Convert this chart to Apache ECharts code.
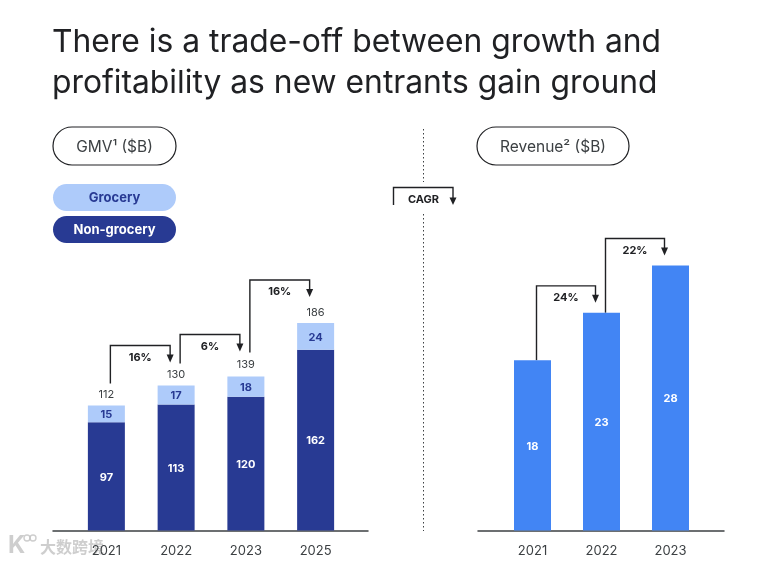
<!DOCTYPE html>
<html>
<head>
<meta charset="utf-8">
<title>GMV and revenue</title>
<script src="https://cdn.jsdelivr.net/npm/echarts@6/dist/echarts.min.js"></script>
<style>
  html, body { margin: 0; padding: 0; background: #fff; }
  #main { width: 781px; height: 562px; }
</style>
</head>
<body>
<div id="main"></div>
<script>
// -------------------------------------------------------------
// Data
// -------------------------------------------------------------
const gmvYears = ['2021', '2022', '2023', '2025'];
const groceryValues = [15, 17, 18, 24];
const nonGroceryValues = [97, 113, 120, 162];
const gmvTotals = [112, 130, 139, 186];
const gmvCagr = ['16%', '6%', '16%'];

const revenueYears = ['2021', '2022', '2023'];
const revenueValues = [18, 23, 28];
const revenueCagr = ['24%', '22%'];

// -------------------------------------------------------------
// Style
// -------------------------------------------------------------
const FONT = 'Inter';
const INK = '#202124';
const GREY = '#3c4043';
const NAVY = '#283a93';
const LIGHT = '#aecbfa';
const BLUE = '#4285f4';

const GRID_TOP = 230.5, GRID_BOTTOM = 31.5;

// Draws one "from bar -> to bar" growth bracket through the axes
function bracketRenderer(values, startGap, tipGap) {
    return function (params, api) {
        const from = api.value(0), to = api.value(1);
        const a = api.coord([from, values[from]]);
        const b = api.coord([to, values[to]]);
        const x0 = a[0] + 4, x1 = b[0] - 6;
        const y0 = a[1] - startGap[from];
        const tip = b[1] - tipGap[from];
        const peak = tip - 17;
        return {
            type: 'group',
            children: [
                { type: 'polyline', shape: { points: [[x0, y0], [x0, peak], [x1, peak], [x1, tip - 6]] },
                  style: { stroke: INK, lineWidth: 1.4, fill: null } },
                { type: 'polygon', shape: { points: [[x1 - 3.5, tip - 8], [x1 + 3.5, tip - 8], [x1, tip]] },
                  style: { fill: INK } },
                { type: 'text', style: { text: api.value(2), x: (x0 + x1) / 2, y: peak + 12, align: 'center', verticalAlign: 'middle',
                  font: '700 11px ' + FONT, fill: INK } }
            ]
        };
    };
}

function bracketData(labels) {
    return labels.map((label, i) => [i, i + 1, label]);
}

function pill(x, y, w, h, fill, stroke, text, textColor, font) {
    return [
        { type: 'rect', shape: { x: x, y: y, width: w, height: h, r: h / 2 },
          style: { fill: fill, stroke: stroke, lineWidth: 1.2 } },
        { type: 'text', x: x + w / 2, y: y + h / 2 + 1,
          style: { text: text, fill: textColor, font: font, align: 'center', verticalAlign: 'middle' } }
    ];
}

const WATERMARK = 'rgba(190,190,190,0.75)';

const graphics = [
    ...pill(53, 127, 123, 38, '#fff', INK, 'GMV¹ ($B)', GREY, '15.5px ' + FONT),
    ...pill(477, 127, 152, 38, '#fff', INK, 'Revenue² ($B)', GREY, '15.5px ' + FONT),
    ...pill(53, 184, 123, 27, LIGHT, null, 'Grocery', NAVY, '700 13px ' + FONT),
    ...pill(53, 216, 123, 27, NAVY, null, 'Non-grocery', '#fff', '700 13px ' + FONT),

    // divider and CAGR key
    { type: 'line', shape: { x1: 423.5, y1: 129, x2: 423.5, y2: 182 }, style: { stroke: GREY, lineWidth: 1, lineDash: [1.5, 2.5] } },
    { type: 'line', shape: { x1: 423.5, y1: 214, x2: 423.5, y2: 531 }, style: { stroke: GREY, lineWidth: 1, lineDash: [1.5, 2.5] } },
    { type: 'polyline', shape: { points: [[393.5, 205], [393.5, 187.5], [453, 187.5], [453, 198]] }, style: { stroke: INK, lineWidth: 1.4, fill: null } },
    { type: 'polygon', shape: { points: [[449.5, 197.5], [456.5, 197.5], [453, 205]] }, style: { fill: INK } },
    { type: 'text', x: 423.5, y: 200, style: { text: 'CAGR', fill: INK, font: '700 11px ' + FONT, align: 'center', verticalAlign: 'middle' } },

    // watermark
    { type: 'text', x: 8, y: 546, style: { text: 'K', fill: WATERMARK, font: 'bold 24px ' + FONT, verticalAlign: 'middle' } },
    { type: 'circle', shape: { cx: 27, cy: 538, r: 3 }, style: { fill: null, stroke: WATERMARK, lineWidth: 1.4 } },
    { type: 'circle', shape: { cx: 33, cy: 538, r: 3 }, style: { fill: null, stroke: WATERMARK, lineWidth: 1.4 } },
    { type: 'text', x: 40, y: 547, style: { text: '大数跨境', fill: WATERMARK, font: '600 16px "Noto Sans CJK SC"', verticalAlign: 'middle' } }
];

const axisLabelStyle = { show: true, color: GREY, fontFamily: FONT, fontSize: 13, margin: 14 };
const valueLabel = { show: true, position: 'inside', offset: [0, 1], fontFamily: FONT, fontSize: 11, fontWeight: 700 };

const option = {
    animation: false,
    backgroundColor: '#fff',
    title: {
        text: 'There is a trade-off between growth and\nprofitability as new entrants gain ground',
        left: 52, top: 21.5, padding: 0,
        textStyle: { fontFamily: FONT, fontSize: 31.8, fontWeight: 400, color: INK, lineHeight: 41 }
    },
    graphic: graphics,
    grid: [
        { left: 71.5, width: 279, top: GRID_TOP, bottom: GRID_BOTTOM },
        { left: 498, width: 207, top: GRID_TOP, bottom: GRID_BOTTOM },
        // these two only carry the longer baselines
        { left: 53, width: 315, top: GRID_TOP, bottom: GRID_BOTTOM },
        { left: 478, width: 246, top: GRID_TOP, bottom: GRID_BOTTOM }
    ],
    xAxis: [
        { type: 'category', gridIndex: 0, data: gmvYears, axisLine: { show: false }, axisTick: { show: false }, axisLabel: axisLabelStyle },
        { type: 'category', gridIndex: 1, data: revenueYears, axisLine: { show: false }, axisTick: { show: false }, axisLabel: axisLabelStyle },
        { type: 'category', gridIndex: 2, data: [''], axisLine: { lineStyle: { color: GREY, width: 1.5 } }, axisTick: { show: false }, axisLabel: { show: false } },
        { type: 'category', gridIndex: 3, data: [''], axisLine: { lineStyle: { color: GREY, width: 1.5 } }, axisTick: { show: false }, axisLabel: { show: false } }
    ],
    yAxis: [
        { type: 'value', gridIndex: 0, min: 0, max: 269, show: false },
        { type: 'value', gridIndex: 1, min: 0, max: 31.7, show: false },
        { type: 'value', gridIndex: 2, min: 0, max: 1, show: false },
        { type: 'value', gridIndex: 3, min: 0, max: 1, show: false }
    ],
    series: [
        {
            name: 'Non-grocery', type: 'bar', stack: 'gmv', xAxisIndex: 0, yAxisIndex: 0, barWidth: 37,
            data: nonGroceryValues, itemStyle: { color: NAVY },
            label: Object.assign({ color: '#fff' }, valueLabel)
        },
        {
            name: 'Grocery', type: 'bar', stack: 'gmv', xAxisIndex: 0, yAxisIndex: 0, barWidth: 37,
            data: groceryValues, itemStyle: { color: LIGHT },
            label: Object.assign({ color: NAVY }, valueLabel)
        },
        {
            name: 'Total', type: 'line', xAxisIndex: 0, yAxisIndex: 0, data: gmvTotals,
            symbolSize: 0, lineStyle: { opacity: 0 }, silent: true,
            label: { show: true, position: 'top', distance: 5, color: GREY, fontFamily: FONT, fontSize: 11 }
        },
        {
            name: 'Revenue', type: 'bar', xAxisIndex: 1, yAxisIndex: 1, barWidth: 37,
            data: revenueValues, itemStyle: { color: BLUE },
            label: Object.assign({ color: '#fff' }, valueLabel)
        },
        {
            type: 'custom', xAxisIndex: 0, yAxisIndex: 0, clip: false, silent: true,
            renderItem: bracketRenderer(gmvTotals, [22, 22, 23], [23, 24, 26]),
            data: bracketData(gmvCagr), encode: { x: 0, y: -1 }
        },
        {
            type: 'custom', xAxisIndex: 1, yAxisIndex: 1, clip: false, silent: true,
            renderItem: bracketRenderer(revenueValues, [0, 0], [10, 10]),
            data: bracketData(revenueCagr), encode: { x: 0, y: -1 }
        }
    ]
};

const myChart = echarts.init(document.getElementById('main'), null, { renderer: 'canvas' });
myChart.setOption(option);
</script>
</body>
</html>
